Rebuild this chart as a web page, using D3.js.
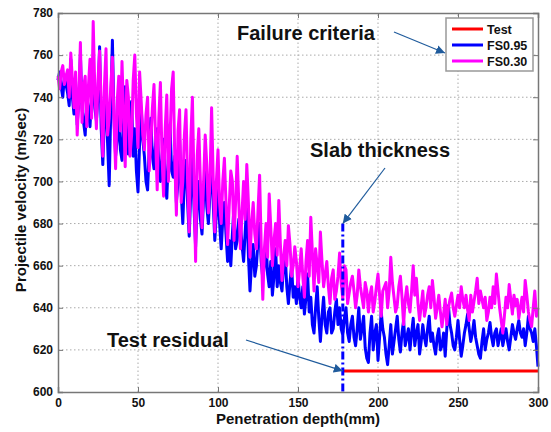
<!DOCTYPE html>
<html>
<head>
<meta charset="UTF-8">
<script src="https://cdnjs.cloudflare.com/ajax/libs/d3/7.8.5/d3.min.js"></script>
<style>
  body { margin: 0; background: #fff; }
  text { font-family: Arial, "Liberation Sans", sans-serif; font-weight: bold; fill: #111; }
</style>
</head>
<body>
<script>
  // velocity read every 1 mm of penetration, 0..300
  var step = 1;
  var fs030 = [
    750, 744, 752, 755, 746, 750, 753, 740, 761, 748,
    735, 752, 722, 740, 766, 728, 745, 750, 726, 745,
    758, 730, 776, 744, 725, 748, 762, 736, 712, 745,
    763, 722, 730, 745, 759, 728, 706, 738, 750, 724,
    757, 732, 707, 748, 740, 712, 722, 748, 760, 732,
    716, 752, 738, 722, 715, 732, 740, 705, 718, 735,
    746, 720, 696, 730, 747, 712, 693, 725, 741, 700,
    720, 744, 752, 710, 684, 724, 734, 690, 700, 722,
    734, 700, 676, 720, 740, 700, 662, 712, 725, 700,
    678, 700, 722, 708, 685, 700, 735, 702, 676, 700,
    715, 690, 680, 700, 711, 690, 670, 688, 705, 700,
    672, 690, 712, 690, 668, 685, 700, 682, 708, 690,
    664, 680, 690, 675, 668, 686, 703, 670, 644, 668,
    680, 664, 694, 678, 660, 672, 680, 665, 691, 670,
    653, 664, 672, 660, 679, 670, 655, 660, 669, 662,
    650, 658, 668, 655, 645, 662, 672, 655, 683, 666,
    648, 668, 660, 652, 676, 662, 650, 656, 662, 650,
    642, 654, 658, 644, 648, 655, 666, 652, 644, 660,
    658, 642, 647, 652, 655, 648, 640, 646, 658, 650,
    645, 640, 652, 648, 638, 646, 650, 638, 643, 650,
    656, 646, 636, 648, 650, 652, 640, 648, 664, 652,
    645, 638, 641, 650, 655, 645, 632, 644, 650, 642,
    638, 648, 660, 646, 654, 642, 634, 641, 648, 636,
    640, 646, 650, 640, 653, 645, 635, 640, 646, 638,
    631, 637, 644, 632, 640, 644, 647, 640, 636, 641,
    646, 640, 650, 644, 640, 646, 639, 634, 646, 638,
    643, 648, 654, 642, 648, 644, 640, 645, 634, 638,
    645, 640, 650, 642, 656, 648, 640, 634, 628, 636,
    645, 640, 651, 644, 637, 646, 641, 644, 635, 640,
    645, 638, 653, 646, 638, 634, 631, 640, 648, 636,
    640];
  var fs095 = [
    748, 752, 745, 740, 750, 746, 742, 736, 758, 740,
    732, 745, 727, 738, 760, 735, 728, 722, 740, 735,
    726, 740, 745, 735, 729, 740, 764, 725, 708, 730,
    740, 718, 698, 735, 767, 730, 712, 720, 735, 715,
    710, 728, 745, 720, 713, 725, 738, 712, 725, 705,
    695, 718, 735, 720, 712, 700, 696, 715, 730, 712,
    706, 718, 725, 708, 700, 712, 720, 700, 692, 712,
    727, 705, 702, 712, 690, 700, 720, 695, 680, 702,
    710, 690, 674, 695, 712, 688, 669, 690, 700, 682,
    675, 692, 705, 688, 680, 695, 716, 690, 672, 685,
    697, 680, 668, 682, 690, 675, 662, 672, 660, 675,
    688, 668, 672, 682, 680, 670, 662, 676, 690, 665,
    648, 662, 670, 655, 660, 672, 680, 662, 654, 660,
    672, 656, 650, 662, 646, 655, 668, 650, 660, 652,
    648, 660, 665, 650, 642, 652, 660, 645, 650, 642,
    655, 645, 640, 650, 637, 645, 656, 638, 645, 632,
    628, 640, 650, 635, 624, 636, 645, 632, 628, 638,
    640, 628, 630, 638, 644, 632, 640, 630, 627, 635,
    640, 628, 624, 632, 636, 626, 622, 630, 640, 625,
    630, 636, 621, 616, 614, 628, 636, 620, 628, 632,
    615, 626, 638, 630, 626, 618, 613, 622, 632, 618,
    624, 630, 636, 625, 619, 628, 634, 622, 626, 630,
    620, 628, 635, 622, 628, 632, 618, 624, 632, 626,
    622, 630, 636, 624, 628, 622, 618, 626, 630, 620,
    622, 628, 617, 630, 641, 632, 628, 622, 620, 626,
    634, 625, 617, 622, 628, 632, 637, 630, 624, 628,
    634, 626, 622, 618, 616, 624, 630, 620, 625, 628,
    633, 626, 622, 628, 630, 622, 626, 630, 622, 626,
    630, 624, 620, 626, 632, 628, 625, 630, 634, 628,
    626, 630, 622, 628, 636, 630, 628, 624, 630, 622,
    612];
  var testDepth = [178, 300];
  var testVel = [610, 610];
  var slabDepth = 178;
  var slabVel = [680, 600];
  var xTicks = [0, 50, 100, 150, 200, 250, 300];
  var yTicks = [600, 620, 640, 660, 680, 700, 720, 740, 760, 780];
  var seriesNames = ["Test", "FS0.95", "FS0.30"];
  var seriesColors = ["#ff0000", "#0000ff", "#ff00ff"];

  var W = 551, H = 432;
  var x = d3.scaleLinear().domain([0, 300]).range([58, 538]);
  var y = d3.scaleLinear().domain([600, 780]).range([392, 13]);

  var svg = d3.select("body").append("svg").attr("width", W).attr("height", H);

  // grid
  svg.append("g").selectAll("line").data(xTicks.slice(1, -1)).enter().append("line")
    .attr("x1", x).attr("x2", x).attr("y1", y(600)).attr("y2", y(780))
    .attr("stroke", "#aaa").attr("stroke-dasharray", "1.5,2.5");
  svg.append("g").selectAll("line").data(yTicks.slice(1, -1)).enter().append("line")
    .attr("y1", y).attr("y2", y).attr("x1", x(0)).attr("x2", x(300))
    .attr("stroke", "#aaa").attr("stroke-dasharray", "1.5,2.5");

  var line = d3.line().x(function(d) { return x(d[0]); }).y(function(d) { return y(d[1]); });
  function pts(arr) { return arr.map(function(v, i) { return [i * step, v]; }); }

  var plot = svg.append("g");
  plot.append("path").datum(testDepth.map(function(d, i) { return [d, testVel[i]]; }))
    .attr("d", line).attr("fill", "none").attr("stroke", seriesColors[0]).attr("stroke-width", 3);
  plot.append("path").datum(pts(fs095))
    .attr("d", line).attr("fill", "none").attr("stroke", seriesColors[1])
    .attr("stroke-width", 3).attr("stroke-linejoin", "round");
  plot.append("path").datum(pts(fs030))
    .attr("d", line).attr("fill", "none").attr("stroke", seriesColors[2])
    .attr("stroke-width", 3).attr("stroke-linejoin", "round");
  plot.append("line")
    .attr("x1", x(slabDepth)).attr("x2", x(slabDepth))
    .attr("y1", y(slabVel[0])).attr("y2", y(slabVel[1]))
    .attr("stroke", "#0000ff").attr("stroke-width", 3).attr("stroke-dasharray", "8,3,2,3");

  // axes
  svg.append("g").attr("transform", "translate(0," + y(600) + ")")
    .call(d3.axisBottom(x).tickValues(xTicks).tickSize(-5).tickPadding(6));
  svg.append("g").attr("transform", "translate(" + x(0) + ",0)")
    .call(d3.axisLeft(y).tickValues(yTicks).tickSize(-5).tickPadding(5));
  svg.append("g").attr("transform", "translate(0," + y(780) + ")")
    .call(d3.axisTop(x).tickValues(xTicks).tickSize(-5).tickFormat(""));
  svg.append("g").attr("transform", "translate(" + x(300) + ",0)")
    .call(d3.axisRight(y).tickValues(yTicks).tickSize(-5).tickFormat(""));
  svg.selectAll(".domain").attr("stroke", "#777").attr("stroke-width", 1.5);
  svg.selectAll(".tick line").attr("stroke", "#777");
  svg.selectAll(".tick text").style("font-size", "12px").style("font-family", "Arial, 'Liberation Sans', sans-serif")
    .style("font-weight", "bold").attr("fill", "#111");

  svg.append("text").attr("x", 298).attr("y", 424).attr("text-anchor", "middle")
    .style("font-size", "15px").text("Penetration depth(mm)");
  svg.append("text").attr("transform", "translate(26,200) rotate(-90)").attr("text-anchor", "middle")
    .style("font-size", "15px").text("Projectile velocity (m/sec)");

  // legend
  var lg = svg.append("g");
  lg.append("rect").attr("x", 446).attr("y", 18).attr("width", 87).attr("height", 53)
    .attr("fill", "#fff").attr("stroke", "#999").attr("stroke-width", 1.5);
  seriesNames.forEach(function(n, i) {
    var yy = 29 + i * 16;
    lg.append("line").attr("x1", 452).attr("x2", 483).attr("y1", yy).attr("y2", yy)
      .attr("stroke", seriesColors[i]).attr("stroke-width", 3);
    lg.append("text").attr("x", 487).attr("y", yy + 4.5).style("font-size", "12.5px").text(n);
  });

  // annotations
  var arrowCol = "#1f5b9c";
  svg.append("defs").append("marker").attr("id", "ah").attr("viewBox", "0 0 10 10")
    .attr("refX", 10).attr("refY", 5).attr("markerWidth", 9).attr("markerHeight", 9)
    .attr("orient", "auto").attr("markerUnits", "userSpaceOnUse")
    .append("path").attr("d", "M0,0L10,5L0,10z").attr("fill", arrowCol);
  function arrow(x1, y1, x2, y2) {
    svg.append("line").attr("x1", x1).attr("y1", y1).attr("x2", x2).attr("y2", y2)
      .attr("stroke", arrowCol).attr("stroke-width", 1.2).attr("marker-end", "url(#ah)");
  }
  svg.append("text").attr("x", 237).attr("y", 40).style("font-size", "20px").text("Failure criteria");
  arrow(394, 32, 445, 53);
  svg.append("text").attr("x", 310).attr("y", 157).style("font-size", "20px").text("Slab thickness");
  arrow(385, 168, x(slabDepth), y(slabVel[0]));
  svg.append("text").attr("x", 107).attr("y", 347).style("font-size", "20px").text("Test residual");
  arrow(246, 340, x(testDepth[0]), y(testVel[0]));
</script>
</body>
</html>
